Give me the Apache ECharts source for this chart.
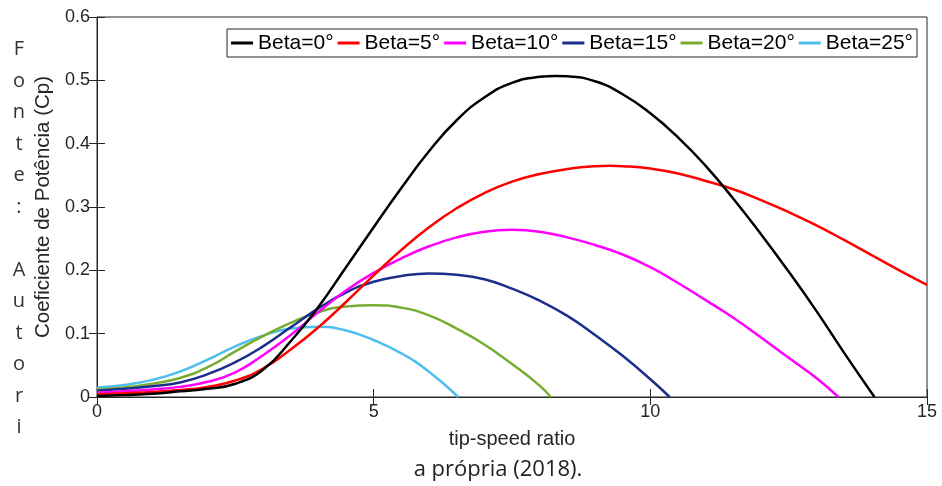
<!DOCTYPE html>
<html>
<head>
<meta charset="utf-8">
<script src="https://cdn.jsdelivr.net/npm/echarts@6/dist/echarts.min.js"></script>
<style>html,body{margin:0;padding:0;background:#fff;}#c{width:942px;height:486px;}</style>
</head>
<body>
<div id="c"></div>
<script>
var seriesNames = ['Beta=0°', 'Beta=5°', 'Beta=10°', 'Beta=15°', 'Beta=20°', 'Beta=25°'];
var xTicks = [0, 5, 10, 15];
var yTicks = ['0', '0.1', '0.2', '0.3', '0.4', '0.5', '0.6'];

var x0 = [0, 0.5, 1, 1.5, 2, 2.5, 3, 3.5, 4, 4.5, 5, 5.5, 6, 6.5, 7, 7.5, 8, 8.3, 8.5, 9, 9.5, 10, 10.5, 11, 11.5, 12, 12.5, 13, 13.5, 14.05];
var y0 = [0.0015, 0.003, 0.005, 0.009, 0.013, 0.021, 0.043, 0.088, 0.142, 0.205, 0.268, 0.330, 0.388, 0.437, 0.473, 0.496, 0.5055, 0.507, 0.5063, 0.4986, 0.478, 0.448, 0.410, 0.365, 0.313, 0.257, 0.198, 0.136, 0.070, 0];

var x5 = [0, 0.5, 1, 1.5, 2, 2.5, 3, 3.5, 4, 4.5, 5, 5.5, 6, 6.5, 7, 7.5, 8, 8.5, 9, 9.27, 9.5, 10, 10.5, 11, 11.5, 12, 12.5, 13, 13.5, 14, 14.5, 15];
var y5 = [0.004, 0.006, 0.008, 0.011, 0.016, 0.026, 0.045, 0.075, 0.110, 0.150, 0.192, 0.232, 0.268, 0.298, 0.322, 0.340, 0.352, 0.360, 0.3643, 0.365, 0.3644, 0.3607, 0.353, 0.341, 0.328, 0.311, 0.292, 0.271, 0.248, 0.224, 0.200, 0.177];

var x10 = [0, 0.5, 1, 1.5, 2, 2.5, 3, 3.5, 4, 4.5, 5, 5.5, 6, 6.5, 7, 7.5, 8, 8.5, 9, 9.5, 10, 10.5, 11, 11.5, 12, 12.5, 13, 13.4];
var y10 = [0.007, 0.009, 0.012, 0.016, 0.024, 0.039, 0.066, 0.098, 0.134, 0.168, 0.196, 0.219, 0.238, 0.252, 0.261, 0.264, 0.261, 0.252, 0.240, 0.225, 0.205, 0.180, 0.153, 0.125, 0.094, 0.062, 0.030, 0];

var x15 = [0, 0.5, 1, 1.5, 2, 2.5, 3, 3.5, 4, 4.5, 5, 5.5, 6, 6.5, 7, 7.5, 8, 8.5, 9, 9.5, 10, 10.35];
var y15 = [0.010, 0.013, 0.017, 0.023, 0.036, 0.055, 0.080, 0.110, 0.140, 0.165, 0.182, 0.191, 0.195, 0.193, 0.186, 0.171, 0.152, 0.128, 0.098, 0.065, 0.028, 0];

var x20 = [0, 0.5, 1, 1.5, 2, 2.5, 3, 3.5, 4, 4.5, 5, 5.5, 6, 6.5, 7, 7.5, 8, 8.2];
var y20 = [0.012, 0.015, 0.021, 0.030, 0.047, 0.072, 0.096, 0.117, 0.134, 0.143, 0.145, 0.141, 0.129, 0.108, 0.083, 0.052, 0.018, 0];

var x25 = [0, 0.5, 1, 1.5, 2, 2.5, 3, 3.5, 4, 4.5, 5, 5.5, 6, 6.53];
var y25 = [0.015, 0.019, 0.027, 0.040, 0.059, 0.080, 0.097, 0.108, 0.111, 0.105, 0.090, 0.069, 0.040, 0];

var xs = [x0, x5, x10, x15, x20, x25];
var ys = [y0, y5, y10, y15, y20, y25];
var colors = ['#000000', '#ff0000', '#ff00ff', '#1b2e8b', '#77ac30', '#4dbeee'];

function pairs(a, b) { return a.map(function (v, i) { return [v, b[i]]; }); }

var axisCol = '#262626';
var font = 'Liberation Sans, Arial, sans-serif';

var series = seriesNames.map(function (n, i) {
  return {
    name: n, type: 'line', data: pairs(xs[i], ys[i]), smooth: 0.5,
    showSymbol: false, symbol: 'none', xAxisIndex: 0, yAxisIndex: 0,
    lineStyle: { color: colors[i], width: 2.5 }, itemStyle: { color: colors[i] },
    z: 10 - i
  };
});

var chart = echarts.init(document.getElementById('c'));
chart.setOption({
  animation: false,
  backgroundColor: '#fff',
  grid: { left: 97, right: 15, top: 17, bottom: 89, show: true, borderColor: axisCol, borderWidth: 1 },
  legend: {
    data: seriesNames, top: 29, right: 25, orient: 'horizontal',
    icon: 'rect', itemWidth: 22, itemHeight: 3, itemGap: 4,
    padding: [3, 4], borderColor: axisCol, borderWidth: 1, backgroundColor: '#fff',
    textStyle: { fontFamily: font, fontSize: 21, color: '#000', lineHeight: 22 }
  },
  xAxis: [{
    type: 'value', min: 0, max: 15, interval: 5,
    name: 'tip-speed ratio', nameLocation: 'middle', nameGap: 32,
    nameTextStyle: { fontFamily: font, fontSize: 20, color: axisCol },
    axisLine: { show: true, onZero: false, lineStyle: { color: axisCol, width: 1 } },
    axisTick: { show: true, inside: true, length: 8, lineStyle: { color: axisCol } },
    axisLabel: { fontFamily: font, fontSize: 18, color: axisCol, margin: 6,
      formatter: function (v) { return xTicks.indexOf(v) >= 0 ? String(v) : ''; } },
    splitLine: { show: false }
  }, {
    type: 'value', min: 0, max: 15, interval: 5, position: 'top',
    axisLine: { show: true, lineStyle: { color: axisCol, width: 1 } },
    axisTick: { show: true, inside: true, length: 8, lineStyle: { color: axisCol } },
    axisLabel: { show: false }, splitLine: { show: false }
  }],
  yAxis: [{
    type: 'value', min: 0, max: 0.6, interval: 0.1,
    name: 'Coeficiente de Potência (Cp)', nameLocation: 'middle', nameGap: 35,
    nameTextStyle: { fontFamily: font, fontSize: 20.5, color: axisCol },
    axisLine: { show: true, onZero: false, lineStyle: { color: axisCol, width: 1 } },
    axisTick: { show: true, inside: true, length: 8, lineStyle: { color: axisCol } },
    axisLabel: { fontFamily: font, fontSize: 18, color: axisCol, margin: 7,
      formatter: function (v) { return yTicks[Math.round(v * 10)]; } },
    splitLine: { show: false }
  }, {
    type: 'value', min: 0, max: 0.6, interval: 0.1, position: 'right',
    axisLine: { show: true, lineStyle: { color: axisCol, width: 1 } },
    axisTick: { show: true, inside: true, length: 8, lineStyle: { color: axisCol } },
    axisLabel: { show: false }, splitLine: { show: false }
  }],
  graphic: [{
    type: 'text', x: 19, y: 34,
    style: { text: 'F\no\nn\nt\ne\n:\n \nA\nu\nt\no\nr\ni', fontFamily: 'Open Sans, sans-serif', fontSize: 20,
      lineHeight: 31.5, fill: '#333', align: 'center', verticalAlign: 'top' }
  }, {
    type: 'text', x: 498, y: 470,
    style: { text: 'a própria (2018).', fontFamily: 'Open Sans, sans-serif', fontSize: 22, fill: '#222',
      align: 'center', verticalAlign: 'middle' }
  }],
  series: series
});
</script>
</body>
</html>
